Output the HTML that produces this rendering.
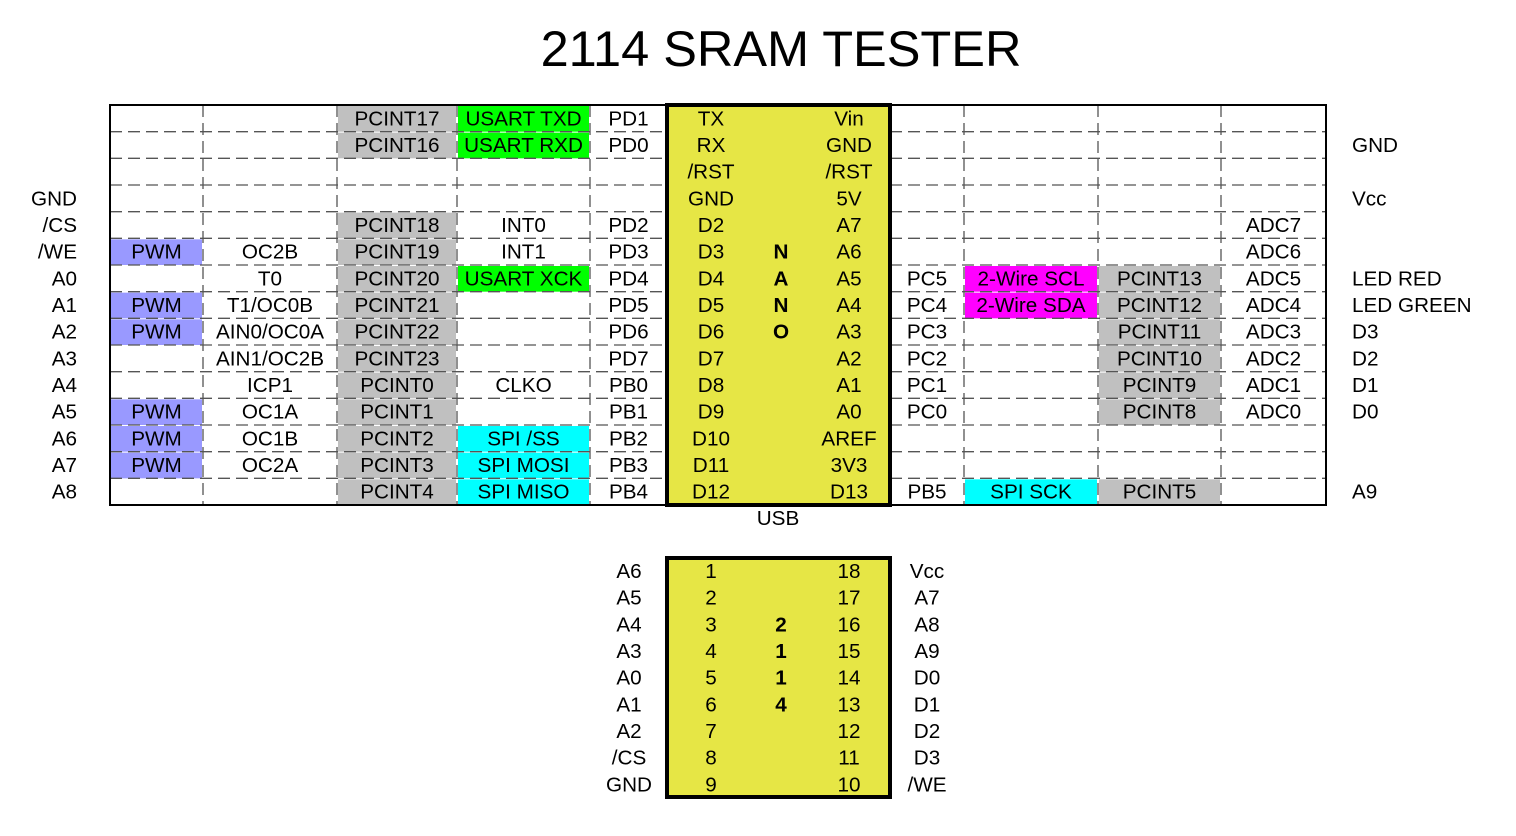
<!DOCTYPE html>
<html><head><meta charset="utf-8"><style>
html,body{margin:0;padding:0;background:#fff;}
svg{display:block;font-family:"Liberation Sans",sans-serif;}
</style></head><body>
<svg id="s" width="1516" height="836" xmlns="http://www.w3.org/2000/svg">
<text x="781" y="66" font-size="50.5" text-anchor="middle">2114 SRAM TESTER</text>
</svg>
<script>
const NS="http://www.w3.org/2000/svg";
const svg=document.getElementById('s');
const colX=[110,203,337,457,590,667,890,964,1098,1221,1326];
const top0=105, rowH=400/15;
const leftLabels=["","","","GND","/CS","/WE","A0","A1","A2","A3","A4","A5","A6","A7","A8"];
const rightLabels=["","GND","","Vcc","","","LED RED","LED GREEN","D3","D2","D1","D0","","","A9"];
const leftCells=[
["","","PCINT17:g","USART TXD:G","PD1"],
["","","PCINT16:g","USART RXD:G","PD0"],
["","","","",""],
["","","","",""],
["","","PCINT18:g","INT0","PD2"],
["PWM:b","OC2B","PCINT19:g","INT1","PD3"],
["","T0","PCINT20:g","USART XCK:G","PD4"],
["PWM:b","T1/OC0B","PCINT21:g","","PD5"],
["PWM:b","AIN0/OC0A","PCINT22:g","","PD6"],
["","AIN1/OC2B","PCINT23:g","","PD7"],
["","ICP1","PCINT0:g","CLKO","PB0"],
["PWM:b","OC1A","PCINT1:g","","PB1"],
["PWM:b","OC1B","PCINT2:g","SPI /SS:c","PB2"],
["PWM:b","OC2A","PCINT3:g","SPI MOSI:c","PB3"],
["","","PCINT4:g","SPI MISO:c","PB4"]];
const nanoL=["TX","RX","/RST","GND","D2","D3","D4","D5","D6","D7","D8","D9","D10","D11","D12"];
const nanoM=["","","","","","N","A","N","O","","","","","",""];
const nanoR=["Vin","GND","/RST","5V","A7","A6","A5","A4","A3","A2","A1","A0","AREF","3V3","D13"];
const rightCells=[
["","","",""],["","","",""],["","","",""],["","","",""],
["","","","ADC7"],["","","","ADC6"],
["PC5","2-Wire SCL:m","PCINT13:g","ADC5"],
["PC4","2-Wire SDA:m","PCINT12:g","ADC4"],
["PC3","","PCINT11:g","ADC3"],
["PC2","","PCINT10:g","ADC2"],
["PC1","","PCINT9:g","ADC1"],
["PC0","","PCINT8:g","ADC0"],
["","","",""],["","","",""],
["PB5","SPI SCK:c","PCINT5:g",""]];
const chipL=["A6","A5","A4","A3","A0","A1","A2","/CS","GND"];
const chipPinL=["1","2","3","4","5","6","7","8","9"];
const chipM=["","","2","1","1","4","","",""];
const chipPinR=["18","17","16","15","14","13","12","11","10"];
const chipR=["Vcc","A7","A8","A9","D0","D1","D2","D3","/WE"];
const colors={g:"#c0c0c0",G:"#00ff00",b:"#9999ff",c:"#00ffff",m:"#ff00ff"};
function el(t,a,txt){const e=document.createElementNS(NS,t);for(const k in a)e.setAttribute(k,a[k]);if(txt!==undefined)e.textContent=txt;svg.appendChild(e);return e;}
function txt(x,y,s,anchor,name,bold){const e=el('text',{x:x,y:y+7,'font-size':20.7,'text-anchor':anchor||'middle','font-weight':bold?'bold':'normal'},s);

return e;}
function cell(ci,ri,v,side){
 if(!v)return;const [s,c]=v.split(':');const x0=colX[ci],x1=colX[ci+1];const y=top0+ri*rowH;
 if(c){const r=el('rect',{x:x0+1,y:y+1,width:x1-x0-2,height:rowH-1,fill:colors[c]});
 
 }
 txt((x0+x1)/2,y+rowH/2,s,'middle',side+'-cell');
}
for(let r=0;r<15;r++){
 leftCells[r].forEach((v,i)=>cell(i,r,v,'left'));
 rightCells[r].forEach((v,i)=>cell(i+6,r,v,'right'));
}
for(let r=1;r<15;r++){const y=top0+r*rowH;
 el('line',{x1:110,x2:667,y1:y,y2:y,stroke:'#555','stroke-width':1.3,'stroke-dasharray':'12,6'});
 el('line',{x1:890,x2:1326,y1:y,y2:y,stroke:'#555','stroke-width':1.3,'stroke-dasharray':'12,6'});}
[203,337,457,590,964,1098,1221].forEach(x=>el('line',{x1:x,x2:x,y1:105,y2:505,stroke:'#555','stroke-width':1.3,'stroke-dasharray':'12,6'}));
const b=el('rect',{x:110,y:105,width:1216,height:400,fill:'none',stroke:'#000','stroke-width':2});


const n=el('rect',{x:667,y:105,width:223,height:400,fill:'#e6e645',stroke:'#000','stroke-width':4});


for(let r=0;r<15;r++){const yc=top0+r*rowH+rowH/2;
 txt(711,yc,nanoL[r],'middle','nano-pin-left');
 if(nanoM[r])txt(781,yc,nanoM[r],'middle','nano-label',true);
 txt(849,yc,nanoR[r],'middle','nano-pin-right');
 if(leftLabels[r])txt(77,yc,leftLabels[r],'end','left-signal');
 if(rightLabels[r])txt(1352,yc,rightLabels[r],'start','right-signal');
}
txt(778,518,'USB','middle','usb-label');
const c=el('rect',{x:667,y:558,width:223,height:239,fill:'#e6e645',stroke:'#000','stroke-width':4});


for(let r=0;r<9;r++){const yc=571+r*rowH;
 txt(629,yc,chipL[r],'middle','chip-signal-left');
 txt(711,yc,chipPinL[r],'middle','chip-pin-left');
 if(chipM[r])txt(781,yc,chipM[r],'middle','chip-label',true);
 txt(849,yc,chipPinR[r],'middle','chip-pin-right');
 txt(927,yc,chipR[r],'middle','chip-signal-right');
}
</script>
</body></html>
